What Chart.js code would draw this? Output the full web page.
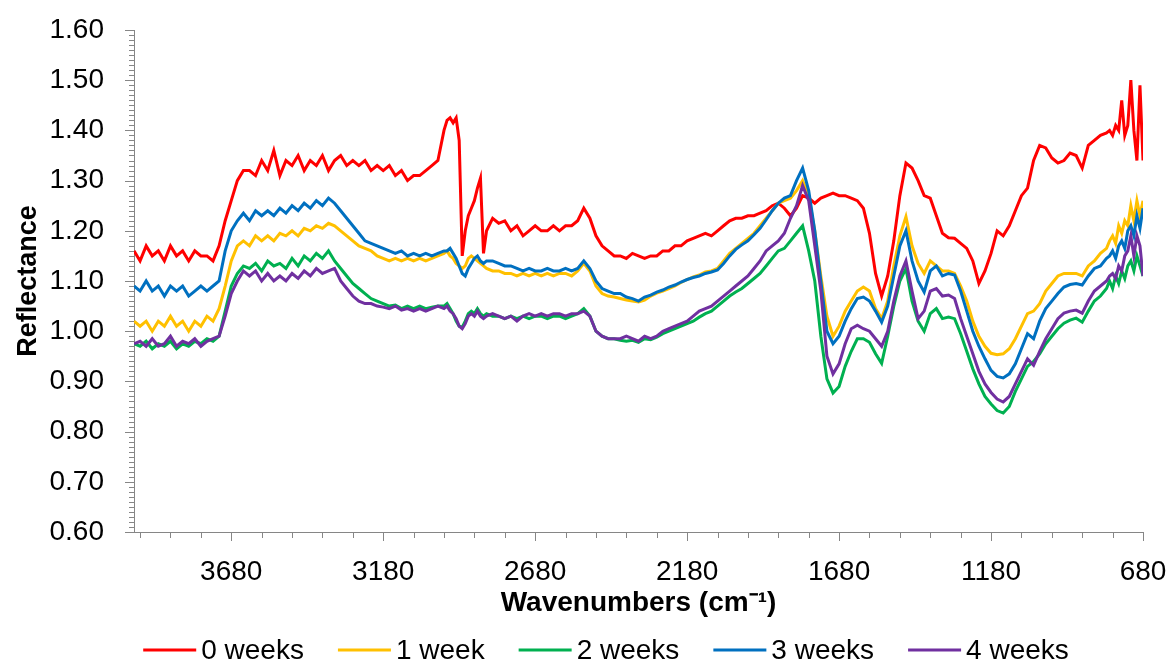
<!DOCTYPE html>
<html>
<head>
<meta charset="utf-8">
<script src="https://cdn.jsdelivr.net/npm/chart.js@4.4.1/dist/chart.umd.min.js"></script>
<style>
  html, body { margin: 0; padding: 0; background: #fff; }
  #wrap { width: 1169px; height: 664px; }
</style>
</head>
<body>
<div id="wrap"><canvas id="chart"></canvas></div>
<script>
// wavenumbers (cm-1), shared by all series
const wavenumbers = [
  4000, 3980, 3960, 3940, 3920, 3900, 3880, 3860, 3840, 3820,
  3800, 3780, 3760, 3740, 3720, 3700, 3680, 3660, 3640, 3620,
  3600, 3580, 3560, 3540, 3520, 3500, 3480, 3460, 3440, 3420,
  3400, 3380, 3360, 3340, 3320, 3300, 3280, 3260, 3240, 3220,
  3200, 3180, 3160, 3140, 3120, 3100, 3080, 3060, 3040, 3020,
  3000,
  2980, 2970, 2960, 2950, 2940, 2930, 2920, 2910, 2900, 2890, 2880, 2870, 2860, 2850, 2840,
  2820, 2800, 2780, 2760, 2740, 2720, 2700, 2680, 2660, 2640,
  2620, 2600, 2580, 2560, 2540, 2520, 2500, 2480, 2460, 2440,
  2420, 2400, 2380, 2360, 2340, 2320, 2300, 2280, 2260, 2240,
  2220, 2200, 2180, 2160, 2140, 2120, 2100, 2080, 2060, 2040,
  2020, 2000, 1980, 1960, 1940, 1920, 1900, 1880, 1860, 1840,
  1820, 1800, 1780, 1760, 1740, 1720, 1700, 1680, 1660, 1640,
  1620, 1600, 1580, 1560, 1540, 1520, 1500, 1480, 1460, 1440,
  1420, 1400, 1380, 1360, 1340, 1320, 1300, 1280, 1260, 1240,
  1220, 1200, 1180, 1160, 1140, 1120, 1100, 1080, 1060, 1040,
  1020, 1000, 980, 960, 940, 920, 900, 880, 860, 840,
  820, 800,
  790, 780, 770, 760, 750, 740, 730, 720, 710, 700, 690, 680
];

const week0 = [
  1.16, 1.14, 1.17, 1.15, 1.16, 1.14, 1.17, 1.15, 1.16, 1.14,
  1.16, 1.15, 1.15, 1.14, 1.17, 1.22, 1.26, 1.30, 1.32, 1.32,
  1.31, 1.34, 1.32, 1.36, 1.31, 1.34, 1.33, 1.35, 1.32, 1.34,
  1.33, 1.35, 1.32, 1.34, 1.35, 1.33, 1.34, 1.33, 1.34, 1.32,
  1.33, 1.32, 1.33, 1.31, 1.32, 1.30, 1.31, 1.31, 1.32, 1.33,
  1.34,
  1.40, 1.42, 1.425, 1.415, 1.425, 1.38, 1.15, 1.20, 1.23, 1.245, 1.26, 1.285, 1.305, 1.155, 1.20,
  1.225, 1.215, 1.22, 1.20, 1.21, 1.19, 1.20, 1.21, 1.20, 1.20,
  1.21, 1.20, 1.21, 1.21, 1.22, 1.245, 1.225, 1.19, 1.17, 1.16,
  1.15, 1.15, 1.145, 1.155, 1.15, 1.145, 1.15, 1.15, 1.16, 1.16,
  1.17, 1.17, 1.18, 1.185, 1.19, 1.195, 1.19, 1.20, 1.21, 1.22,
  1.225, 1.225, 1.23, 1.23, 1.235, 1.24, 1.25, 1.255, 1.245, 1.23,
  1.245, 1.27, 1.265, 1.255, 1.265, 1.27, 1.275, 1.27, 1.27, 1.265,
  1.26, 1.245, 1.195, 1.115, 1.07, 1.11, 1.18, 1.27, 1.335, 1.325,
  1.30, 1.27, 1.265, 1.23, 1.195, 1.186, 1.185, 1.175, 1.165, 1.14,
  1.095, 1.12, 1.155, 1.20, 1.19, 1.21, 1.24, 1.27, 1.285, 1.34,
  1.37, 1.365, 1.345, 1.335, 1.34, 1.355, 1.35, 1.325, 1.37, 1.38,
  1.39, 1.395,
  1.40, 1.39, 1.41, 1.40, 1.46, 1.39, 1.41, 1.50, 1.40, 1.34, 1.49, 1.34
];

const week1 = [
  1.02, 1.01, 1.02, 1.00, 1.02, 1.01, 1.03, 1.01, 1.02, 1.00,
  1.02, 1.01, 1.03, 1.02, 1.045, 1.09, 1.14, 1.17, 1.18, 1.17,
  1.19, 1.18, 1.19, 1.18, 1.195, 1.19, 1.20, 1.19, 1.205, 1.20,
  1.21, 1.205, 1.215, 1.21, 1.20, 1.19, 1.18, 1.17, 1.165, 1.16,
  1.15, 1.145, 1.14, 1.145, 1.14, 1.145, 1.14, 1.145, 1.14, 1.145,
  1.15,
  1.155, 1.16, 1.15, 1.145, 1.135, 1.13, 1.125, 1.13, 1.145, 1.15, 1.145, 1.14, 1.135, 1.13, 1.125,
  1.12, 1.12, 1.115, 1.115, 1.11, 1.115, 1.11, 1.115, 1.11, 1.115,
  1.11, 1.115, 1.115, 1.11, 1.12, 1.135, 1.12, 1.09, 1.075, 1.07,
  1.068, 1.065, 1.062, 1.06, 1.058, 1.062, 1.07, 1.076, 1.08, 1.085,
  1.09, 1.097, 1.103, 1.108, 1.112, 1.118, 1.12, 1.125, 1.14, 1.155,
  1.165, 1.175, 1.185, 1.195, 1.21, 1.225, 1.24, 1.255, 1.26, 1.265,
  1.28, 1.30, 1.27, 1.20, 1.11, 1.03, 0.99, 1.01, 1.04, 1.06,
  1.08, 1.088, 1.08, 1.045, 1.025, 1.06, 1.13, 1.19, 1.228, 1.17,
  1.135, 1.115, 1.14, 1.13, 1.12, 1.12, 1.115, 1.09, 1.06, 1.02,
  0.99, 0.97, 0.956, 0.953, 0.955, 0.965, 0.985, 1.01, 1.035, 1.04,
  1.055, 1.08, 1.095, 1.11, 1.115, 1.115, 1.115, 1.11, 1.13, 1.14,
  1.155, 1.165,
  1.18, 1.19, 1.175, 1.21, 1.195, 1.22, 1.21, 1.25, 1.22, 1.26, 1.23, 1.26
];

const week2 = [
  0.975, 0.97, 0.98, 0.965, 0.975, 0.97, 0.98, 0.965, 0.975, 0.97,
  0.98, 0.975, 0.985, 0.98, 0.99, 1.04, 1.09, 1.115, 1.13, 1.125,
  1.135, 1.12, 1.14, 1.13, 1.135, 1.125, 1.145, 1.13, 1.15, 1.14,
  1.155, 1.145, 1.16, 1.14, 1.125, 1.11, 1.095, 1.085, 1.075, 1.065,
  1.06, 1.055, 1.05, 1.052, 1.045, 1.05, 1.045, 1.05, 1.045, 1.048,
  1.05,
  1.05, 1.055, 1.045, 1.035, 1.02, 1.01, 1.008, 1.02, 1.035, 1.04, 1.035, 1.045, 1.035, 1.03, 1.035,
  1.03, 1.03, 1.025, 1.03, 1.025, 1.03, 1.025, 1.03, 1.03, 1.025,
  1.03, 1.03, 1.025, 1.03, 1.035, 1.045, 1.03, 1.00, 0.99, 0.985,
  0.985, 0.982, 0.98, 0.982, 0.978, 0.985, 0.983, 0.988, 0.995, 1.00,
  1.005, 1.01, 1.015, 1.02, 1.028, 1.035, 1.04, 1.05, 1.06, 1.07,
  1.078, 1.085, 1.095, 1.105, 1.115, 1.13, 1.145, 1.16, 1.165, 1.18,
  1.195, 1.21, 1.16, 1.10, 0.99, 0.905, 0.877, 0.89, 0.93, 0.96,
  0.985, 0.985, 0.978, 0.955, 0.936, 0.99, 1.05, 1.10, 1.125, 1.06,
  1.02, 1.00, 1.035, 1.045, 1.025, 1.028, 1.025, 0.995, 0.96, 0.925,
  0.895, 0.87, 0.855, 0.842, 0.837, 0.85, 0.88, 0.905, 0.93, 0.94,
  0.955, 0.975, 0.99, 1.005, 1.016, 1.022, 1.026, 1.018, 1.04, 1.06,
  1.07, 1.085,
  1.10, 1.085, 1.11, 1.095, 1.12, 1.105, 1.13, 1.14, 1.12, 1.15, 1.13, 1.11
];

const week3 = [
  1.09, 1.08, 1.10, 1.08, 1.09, 1.07, 1.09, 1.08, 1.09, 1.07,
  1.08, 1.09, 1.08, 1.09, 1.10, 1.16, 1.20, 1.22, 1.235, 1.22,
  1.24, 1.23, 1.24, 1.23, 1.245, 1.235, 1.25, 1.24, 1.255, 1.245,
  1.26, 1.25, 1.265, 1.255, 1.24, 1.225, 1.21, 1.195, 1.18, 1.175,
  1.17, 1.165, 1.16, 1.155, 1.16, 1.15, 1.155, 1.15, 1.155, 1.15,
  1.155,
  1.16, 1.16, 1.165, 1.155, 1.145, 1.13, 1.115, 1.11, 1.125, 1.135, 1.145, 1.15, 1.14, 1.135, 1.14,
  1.14, 1.135, 1.13, 1.13, 1.125, 1.12, 1.125, 1.12, 1.12, 1.125,
  1.12, 1.12, 1.125, 1.12, 1.125, 1.14, 1.125, 1.10, 1.085, 1.08,
  1.075, 1.075, 1.068, 1.065, 1.06, 1.068, 1.072, 1.078, 1.082, 1.088,
  1.092, 1.098, 1.103, 1.107, 1.11, 1.115, 1.118, 1.122, 1.135, 1.15,
  1.163, 1.172, 1.18, 1.192, 1.205, 1.222, 1.24, 1.255, 1.265, 1.27,
  1.30, 1.325, 1.28, 1.20, 1.10, 1.00, 0.975, 0.99, 1.02, 1.045,
  1.065, 1.068, 1.06, 1.04, 1.018, 1.05, 1.11, 1.17, 1.20, 1.14,
  1.10, 1.078, 1.12, 1.13, 1.11, 1.115, 1.112, 1.08, 1.04, 1.00,
  0.97, 0.945, 0.922, 0.91, 0.907, 0.915, 0.935, 0.965, 0.995, 0.985,
  1.02, 1.045, 1.06, 1.075, 1.088, 1.093, 1.095, 1.092, 1.11, 1.125,
  1.13, 1.145,
  1.15, 1.16, 1.145, 1.17, 1.18, 1.165, 1.20, 1.21, 1.19, 1.23, 1.205, 1.245
];

const week4 = [
  0.975, 0.98, 0.97, 0.985, 0.97, 0.975, 0.99, 0.97, 0.98, 0.975,
  0.985, 0.97, 0.98, 0.985, 0.99, 1.03, 1.075, 1.10, 1.12, 1.11,
  1.12, 1.10, 1.115, 1.10, 1.11, 1.10, 1.115, 1.105, 1.12, 1.11,
  1.125, 1.115, 1.12, 1.125, 1.10, 1.085, 1.07, 1.06, 1.055, 1.055,
  1.05, 1.048, 1.045, 1.05, 1.042, 1.045, 1.04, 1.045, 1.04, 1.045,
  1.05,
  1.045, 1.05, 1.04, 1.035, 1.025, 1.01, 1.005, 1.015, 1.03, 1.035, 1.03, 1.04, 1.03, 1.025, 1.03,
  1.035, 1.03, 1.025, 1.03, 1.02, 1.03, 1.035, 1.03, 1.035, 1.03,
  1.035, 1.035, 1.03, 1.035, 1.035, 1.04, 1.03, 1.00, 0.99, 0.985,
  0.985, 0.985, 0.99, 0.985, 0.98, 0.99, 0.985, 0.99, 1.00, 1.005,
  1.01, 1.015, 1.02, 1.03, 1.04, 1.045, 1.05, 1.06, 1.07, 1.08,
  1.09, 1.10, 1.11, 1.125, 1.14, 1.16, 1.17, 1.18, 1.195, 1.225,
  1.25, 1.29, 1.26, 1.17, 1.08, 0.95, 0.915, 0.935, 0.975, 1.005,
  1.012, 1.005, 1.00, 0.985, 0.97, 1.00, 1.06, 1.11, 1.14, 1.08,
  1.025, 1.04, 1.08, 1.085, 1.07, 1.072, 1.065, 1.025, 0.99, 0.955,
  0.92, 0.895, 0.878, 0.865, 0.859, 0.87, 0.895, 0.92, 0.945, 0.932,
  0.96, 0.985, 1.005, 1.025, 1.036, 1.04, 1.042, 1.036, 1.06, 1.08,
  1.09, 1.10,
  1.11, 1.115, 1.105, 1.13, 1.12, 1.15, 1.16, 1.19, 1.15, 1.19, 1.17, 1.11
];

const seriesNames = ['0 weeks', '1 week', '2 weeks', '3 weeks', '4 weeks'];
const seriesValues = [week0, week1, week2, week3, week4];
const seriesColors = ['#FF0000', '#FFC000', '#00B050', '#0070C0', '#7030A0'];
const xTickLabels = [3680, 3180, 2680, 2180, 1680, 1180, 680];

const FONT = "'Liberation Sans', Arial, sans-serif";
const AXIS_GREY = '#868686';

// Excel-style major/minor tick marks on both axes
const tickMarks = {
  id: 'tickMarks',
  afterDraw(chart) {
    const {ctx, chartArea, scales: {x, y}} = chart;
    ctx.save();
    ctx.strokeStyle = AXIS_GREY;
    ctx.lineWidth = 1;
    ctx.beginPath();
    for (let v = 680; v <= 4000; v += 100) {
      const px = Math.round(x.getPixelForValue(v)) + 0.5;
      const len = (v - 680) % 500 === 0 ? 9 : 6;
      ctx.moveTo(px, chartArea.bottom);
      ctx.lineTo(px, chartArea.bottom + len);
    }
    for (let i = 0; i <= 100; i++) {
      const py = Math.round(y.getPixelForValue(0.6 + i / 100)) + 0.5;
      const len = i % 10 === 0 ? 9 : 5;
      ctx.moveTo(chartArea.left, py);
      ctx.lineTo(chartArea.left - len, py);
    }
    ctx.stroke();
    ctx.restore();
  }
};

// legend drawn as short lines with the label right next to them
const bottomLegend = {
  id: 'bottomLegend',
  afterDraw(chart) {
    const ctx = chart.ctx;
    ctx.save();
    ctx.font = '28px ' + FONT;
    ctx.textBaseline = 'middle';
    const lineLen = 53, gapText = 5, gapItem = 34, yMid = 650;
    const widths = chart.data.datasets.map(ds => lineLen + gapText + ctx.measureText(ds.label).width);
    const total = widths.reduce((a, b) => a + b, 0) + gapItem * (widths.length - 1);
    let xPos = 606 - total / 2;
    chart.data.datasets.forEach((ds, i) => {
      ctx.fillStyle = ds.borderColor;
      ctx.fillRect(xPos, yMid - 1.5, lineLen, 3);
      ctx.fillStyle = '#000';
      ctx.fillText(ds.label, xPos + lineLen + gapText, yMid + 1);
      xPos += widths[i] + gapItem;
    });
    ctx.restore();
  }
};

const datasets = seriesValues.map((vals, i) => ({
  label: seriesNames[i],
  data: wavenumbers.map((w, j) => ({ x: w, y: vals[j] })),
  borderColor: seriesColors[i],
  backgroundColor: seriesColors[i],
  borderWidth: 3,
  pointRadius: 0,
  tension: 0,
  order: seriesValues.length - 1 - i
}));

new Chart(document.getElementById('chart'), {
  type: 'line',
  data: { datasets },
  options: {
    responsive: true,
    maintainAspectRatio: false,
    animation: false,
    layout: { padding: { left: 0, right: 26, top: 30, bottom: 0 } },
    plugins: {
      legend: { display: false },
      tooltip: { enabled: false }
    },
    scales: {
      x: {
        type: 'linear',
        reverse: true,
        min: 680,
        max: 4000,
        afterBuildTicks: s => { s.ticks = xTickLabels.map(v => ({ value: v })); },
        afterFit: s => {
          s.height = 132;
          s.paddingLeft = 0;
          s.paddingRight = 0;
        },
        grid: { display: false, drawTicks: true, tickLength: 9 },
        border: { color: AXIS_GREY, width: 1 },
        ticks: {
          font: { family: FONT, size: 28 },
          color: '#000',
          padding: 14,
          maxRotation: 0,
          autoSkip: false,
          callback: v => String(v)
        },
        title: {
          display: true,
          text: 'Wavenumbers (cm\u207B\u00B9)',
          font: { family: FONT, size: 28, weight: 'bold' },
          color: '#000',
          padding: { top: 0, bottom: 44 }
        }
      },
      y: {
        min: 0.6,
        max: 1.6,
        afterFit: s => {
          s.width = 134;
          s.paddingTop = 0;
          s.paddingBottom = 0;
        },
        grid: { display: false, drawTicks: true, tickLength: 9 },
        border: { color: AXIS_GREY, width: 1 },
        ticks: {
          stepSize: 0.1,
          font: { family: FONT, size: 28 },
          color: '#000',
          padding: 21,
          callback: v => v.toFixed(2)
        },
        title: {
          display: true,
          text: 'Reflectance',
          font: { family: FONT, size: 27, weight: 'bold' },
          color: '#000',
          padding: { top: 12, bottom: 0 }
        }
      }
    }
  },
  plugins: [tickMarks, bottomLegend]
});
</script>
</body>
</html>
